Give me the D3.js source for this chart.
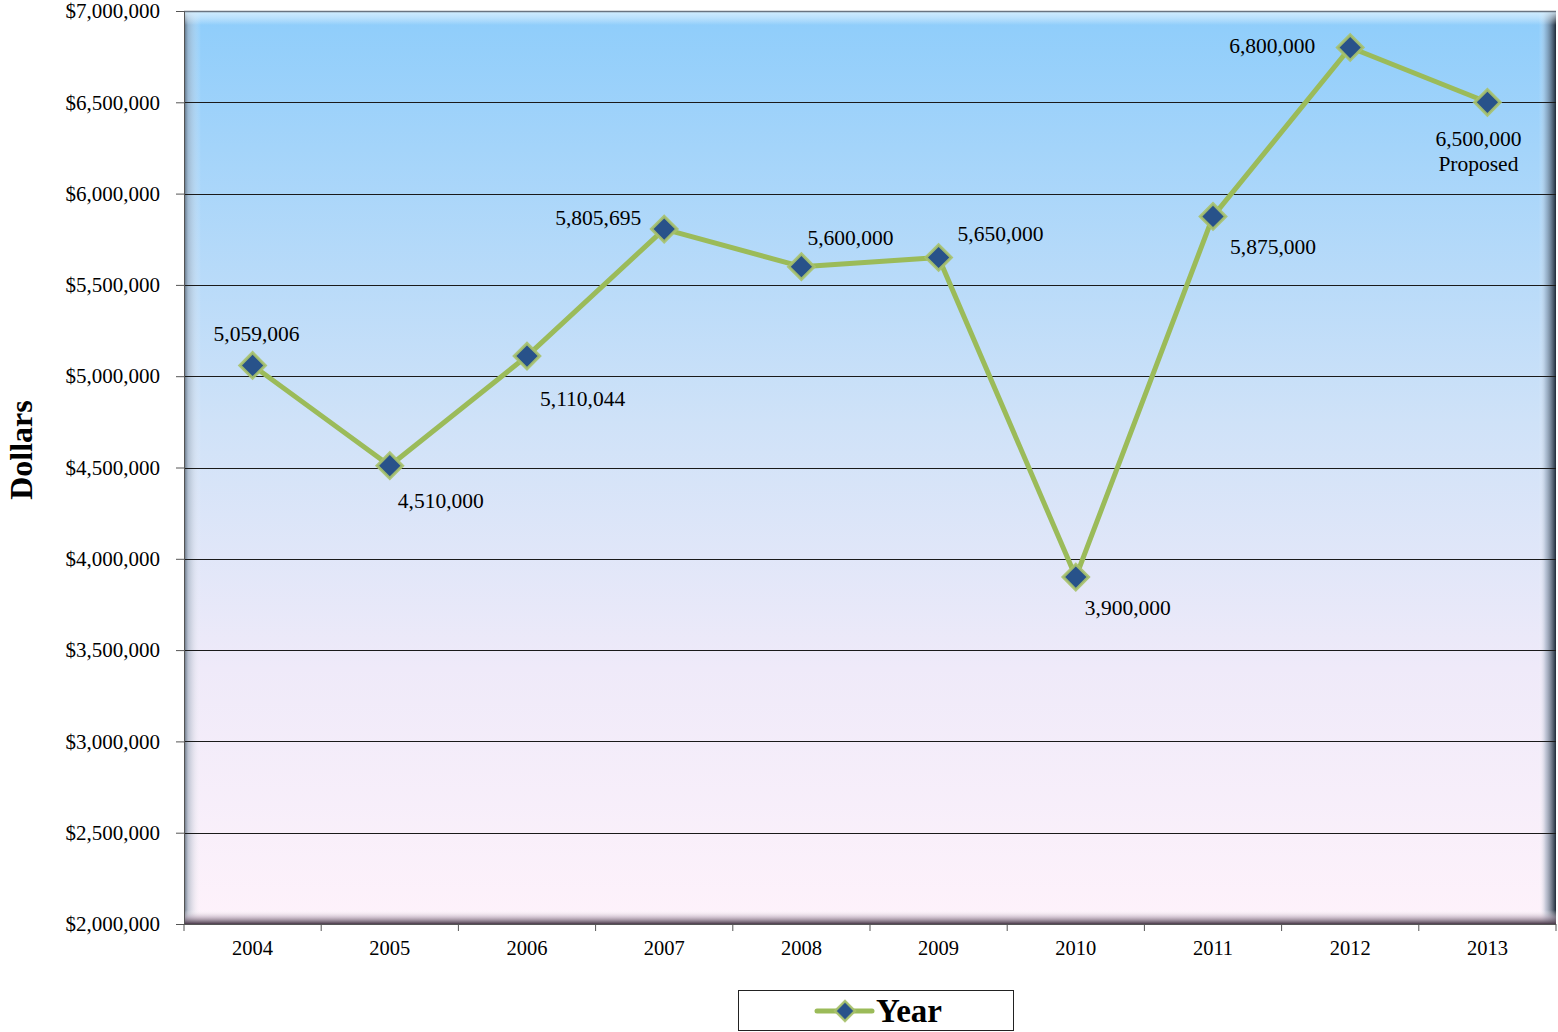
<!DOCTYPE html>
<html>
<head>
<meta charset="utf-8">
<script src="https://cdn.jsdelivr.net/npm/d3@7"></script>
<style>
  html, body { margin: 0; padding: 0; background: #fff; }
  svg { display: block; }
  text { font-family: "Liberation Serif", "Times New Roman", serif; fill: #000; }
</style>
</head>
<body>
<svg id="chart" width="1558" height="1032"></svg>
<script>
// Budget by year
const years = ["2004", "2005", "2006", "2007", "2008", "2009", "2010", "2011", "2012", "2013"];
const amounts = [5059006, 4510000, 5110044, 5805695, 5600000, 5650000, 3900000, 5875000, 6800000, 6500000];
const pointLabels = ["5,059,006", "4,510,000", "5,110,044", "5,805,695", "5,600,000", "5,650,000", "3,900,000", "5,875,000", "6,800,000", "6,500,000\nProposed"];
const yTicks = [2000000, 2500000, 3000000, 3500000, 4000000, 4500000, 5000000, 5500000, 6000000, 6500000, 7000000];
const seriesName = "Year";
const axisTitle = "Dollars";

const svg = d3.select("#chart");
const plot = { left: 184, right: 1556, top: 11, bottom: 924 };

const x = d3.scaleBand().domain(years).range([plot.left, plot.right]);
const y = d3.scaleLinear().domain([2000000, 7000000]).range([plot.bottom, plot.top]);

const defs = svg.append("defs");

// Sky-to-blush fill of the plot panel
const bg = defs.append("linearGradient").attr("id", "bgGrad")
  .attr("x1", 0).attr("y1", 0).attr("x2", 0).attr("y2", 1);
bg.append("stop").attr("offset", "0%").attr("stop-color", "#8ecdfb");
bg.append("stop").attr("offset", "45%").attr("stop-color", "#cfe2f8");
bg.append("stop").attr("offset", "72%").attr("stop-color", "#efeaf9");
bg.append("stop").attr("offset", "100%").attr("stop-color", "#fef2fb");

// Bevel shading on the panel edges
function edgeGrad(id, x1, y1, x2, y2, stops) {
  const g = defs.append("linearGradient").attr("id", id)
    .attr("x1", x1).attr("y1", y1).attr("x2", x2).attr("y2", y2);
  stops.forEach(s => g.append("stop").attr("offset", s[0]).attr("stop-color", s[1]).attr("stop-opacity", s[2]));
}
edgeGrad("leftBevel", 0, 0, 1, 0, [["0%", "#4a5a6a", 0.9], ["25%", "#9aa8b8", 0.6], ["100%", "#ffffff", 0]]);
edgeGrad("rightBevel", 0, 0, 1, 0, [["0%", "#ffffff", 0], ["40%", "#8a9cb0", 0.5], ["100%", "#1e2a38", 1]]);
edgeGrad("topBevel", 0, 0, 0, 1, [["0%", "#d8f0ff", 0.9], ["100%", "#ffffff", 0]]);
edgeGrad("bottomBevel", 0, 0, 0, 1, [["0%", "#ffffff", 0], ["50%", "#b8a8b8", 0.6], ["100%", "#4a3a4a", 1]]);

const pw = plot.right - plot.left, ph = plot.bottom - plot.top;
svg.append("rect").attr("x", plot.left).attr("y", plot.top)
  .attr("width", pw).attr("height", ph).attr("fill", "url(#bgGrad)");
svg.append("rect").attr("x", plot.left).attr("y", plot.top).attr("width", 17).attr("height", ph).attr("fill", "url(#leftBevel)");
svg.append("rect").attr("x", plot.right - 17).attr("y", plot.top).attr("width", 17).attr("height", ph).attr("fill", "url(#rightBevel)");
svg.append("rect").attr("x", plot.left).attr("y", plot.top).attr("width", pw).attr("height", 14).attr("fill", "url(#topBevel)");
svg.append("rect").attr("x", plot.left).attr("y", plot.bottom - 14).attr("width", pw).attr("height", 14).attr("fill", "url(#bottomBevel)");
svg.append("line").attr("x1", plot.left).attr("x2", plot.right).attr("y1", plot.top + 0.5).attr("y2", plot.top + 0.5)
  .attr("stroke", "#6a7480").attr("stroke-width", 1.5);

// Horizontal gridlines
svg.append("g").selectAll("line")
  .data(yTicks.filter(v => v > 2000000 && v < 7000000))
  .join("line")
  .attr("x1", plot.left).attr("x2", plot.right)
  .attr("y1", d => Math.round(y(d)) + 0.5).attr("y2", d => Math.round(y(d)) + 0.5)
  .attr("stroke", "#1a1a1a").attr("stroke-width", 1);

// Y axis
const yAxis = d3.axisLeft(y).tickValues(yTicks)
  .tickFormat(d => "$" + d3.format(",")(d)).tickSize(8).tickPadding(16);
const gy = svg.append("g").attr("transform", `translate(${plot.left},0)`).call(yAxis);
gy.select(".domain").attr("stroke", "#555");
gy.selectAll(".tick line").attr("stroke", "#555");
gy.selectAll("text").style("font-size", "21px").style("font-family", "Liberation Serif");

// X axis with ticks between categories
const gx = svg.append("g").attr("transform", `translate(0,${plot.bottom})`);
gx.append("line").attr("x1", plot.left).attr("x2", plot.right).attr("y1", 0.5).attr("y2", 0.5).attr("stroke", "#555");
const bounds = years.map(d => x(d)).concat([plot.right]);
gx.selectAll("line.tk").data(bounds).join("line").attr("class", "tk")
  .attr("x1", d => d).attr("x2", d => d).attr("y1", 0).attr("y2", 7).attr("stroke", "#555");
gx.selectAll("text").data(years).join("text")
  .attr("x", d => x(d) + x.bandwidth() / 2).attr("y", 31)
  .attr("text-anchor", "middle").style("font-size", "20.5px").text(d => d);

// Axis title
svg.append("text").attr("transform", "translate(32,450) rotate(-90)")
  .attr("text-anchor", "middle").style("font-size", "32px").style("font-weight", "bold").text(axisTitle);

// Series line
const cx = i => x(years[i]) + x.bandwidth() / 2;
const line = d3.line().x((d, i) => cx(i)).y(d => y(d));
svg.append("path").datum(amounts).attr("d", line)
  .attr("fill", "none").attr("stroke", "#9bbb59").attr("stroke-width", 5).attr("stroke-linejoin", "round");

// Diamond markers
function drawMarker(g, px, py, half, sw) {
  g.append("rect").attr("x", -half).attr("y", -half).attr("width", 2 * half).attr("height", 2 * half)
    .attr("transform", `translate(${px},${py}) rotate(45)`)
    .attr("fill", "#28528a").attr("stroke", "#a8c26a").attr("stroke-opacity", 0.9).attr("stroke-width", sw);
}
const markers = svg.append("g");
amounts.forEach((v, i) => drawMarker(markers, cx(i), y(v), 9, 3));

// Value label placement around each marker: [dx, dy, anchor]
const labelPlacement = {
  "2004": [4, -29, "middle"],
  "2005": [8, 37, "start"],
  "2006": [13, 45, "start"],
  "2007": [-23, -9, "end"],
  "2008": [6, -27, "start"],
  "2009": [19, -22, "start"],
  "2010": [9, 33, "start"],
  "2011": [17, 33, "start"],
  "2012": [-35, 0, "end"],
  "2013": [-9, 39, "middle"]
};
const labelG = svg.append("g");
amounts.forEach((v, i) => {
  const [dx, dy, anchor] = labelPlacement[years[i]];
  const t = labelG.append("text").attr("x", cx(i) + dx).attr("y", y(v) + dy)
    .attr("text-anchor", anchor).attr("dominant-baseline", "middle").style("font-size", "21.5px");
  pointLabels[i].split("\n").forEach((s, k) => {
    t.append("tspan").attr("x", cx(i) + dx).attr("dy", k === 0 ? 0 : 25).text(s);
  });
});

// Legend
const lg = svg.append("g");
lg.append("rect").attr("x", 738.5).attr("y", 990.5).attr("width", 275).attr("height", 40)
  .attr("fill", "#fff").attr("stroke", "#222").attr("stroke-width", 1);
lg.append("line").attr("x1", 817).attr("x2", 872).attr("y1", 1011).attr("y2", 1011)
  .attr("stroke", "#9bbb59").attr("stroke-width", 5).attr("stroke-linecap", "round");
drawMarker(lg, 845, 1011, 7, 2.5);
lg.append("text").attr("x", 876).attr("y", 1022).style("font-size", "33px").style("font-weight", "bold").text(seriesName);
</script>
</body>
</html>
